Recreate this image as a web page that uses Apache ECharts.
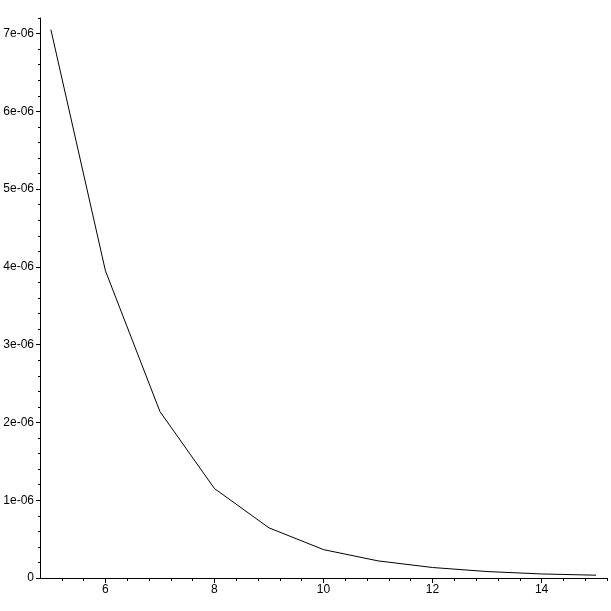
<!DOCTYPE html>
<html>
<head>
<meta charset="utf-8">
<script src="https://cdn.jsdelivr.net/npm/echarts@6/dist/echarts.min.js"></script>
<style>html,body{margin:0;padding:0;background:#fff}#c{width:611px;height:611px}</style>
</head>
<body>
<div id="c"></div>
<script>
var xValues = [5, 6, 7, 8, 9, 10, 11, 12, 13, 14, 15];
var yValues = [7.05e-6, 3.95e-6, 2.14e-6, 1.15e-6, 0.645e-6, 0.365e-6, 0.22e-6, 0.135e-6, 0.083e-6, 0.052e-6, 0.036e-6];
var xMajorTicks = [6, 8, 10, 12, 14];
var xMinorTicks = [5.2, 5.6, 6.4, 6.8, 7.2, 7.6, 8.4, 8.8, 9.2, 9.6, 10.4, 10.8, 11.2, 11.6, 12.4, 12.8, 13.2, 13.6, 14.4, 14.8, 15.2];
var yMajorTicks = [0, 1e-6, 2e-6, 3e-6, 4e-6, 5e-6, 6e-6, 7e-6];
var yTickLabels = ['0', '1e-06', '2e-06', '3e-06', '4e-06', '5e-06', '6e-06', '7e-06'];
var yMinorTicks = [];
[0.2,0.4,0.6,0.8,1.2,1.4,1.6,1.8,2.2,2.4,2.6,2.8,3.2,3.4,3.6,3.8,4.2,4.4,4.6,4.8,5.2,5.4,5.6,5.8,6.2,6.4,6.6,6.8,7.2].forEach(function(v){ yMinorTicks.push(v * 1e-6); });

var data = xValues.map(function (x, i) { return [x, yValues[i]]; });
var font = { fontFamily: 'Liberation Sans', fontSize: 12, color: '#000' };
var chart = echarts.init(document.getElementById('c'), null, { renderer: 'canvas' });
chart.setOption({
  animation: false,
  backgroundColor: '#fff',
  grid: { left: 40, right: 4, top: 18, bottom: 33, containLabel: false },
  xAxis: [{
    type: 'value', min: 4.8, max: 15.2, position: 'bottom',
    axisLine: { show: true, lineStyle: { color: '#000', width: 1 } },
    axisTick: { show: true, length: 5, customValues: xMajorTicks, lineStyle: { color: '#000' } },
    axisLabel: Object.assign({ margin: 6, customValues: xMajorTicks, formatter: function (v) { return String(Math.round(v)); } }, font),
    splitLine: { show: false }
  }, {
    type: 'value', min: 4.8, max: 15.2, position: 'bottom',
    axisLine: { show: false },
    axisTick: { show: true, length: 3, customValues: xMinorTicks, lineStyle: { color: '#000' } },
    axisLabel: { show: false },
    splitLine: { show: false }
  }],
  yAxis: [{
    type: 'value', min: 0, max: 7.2e-6, position: 'left',
    axisLine: { show: true, lineStyle: { color: '#000', width: 1 } },
    axisTick: { show: true, length: 4, customValues: yMajorTicks, lineStyle: { color: '#000' } },
    axisLabel: Object.assign({ margin: 6, customValues: yMajorTicks, formatter: function (v) {
      var i = Math.round(v * 1e6); return yTickLabels[i]; } }, font),
    splitLine: { show: false }
  }, {
    type: 'value', min: 0, max: 7.2e-6, position: 'left',
    axisLine: { show: false },
    axisTick: { show: true, length: 2, customValues: yMinorTicks, lineStyle: { color: '#000' } },
    axisLabel: { show: false },
    splitLine: { show: false }
  }],
  series: [{
    type: 'line', xAxisIndex: 0, yAxisIndex: 0, data: data,
    showSymbol: false, symbol: 'none', smooth: false,
    lineStyle: { color: '#000', width: 1 }
  }]
});
</script>
</body>
</html>
